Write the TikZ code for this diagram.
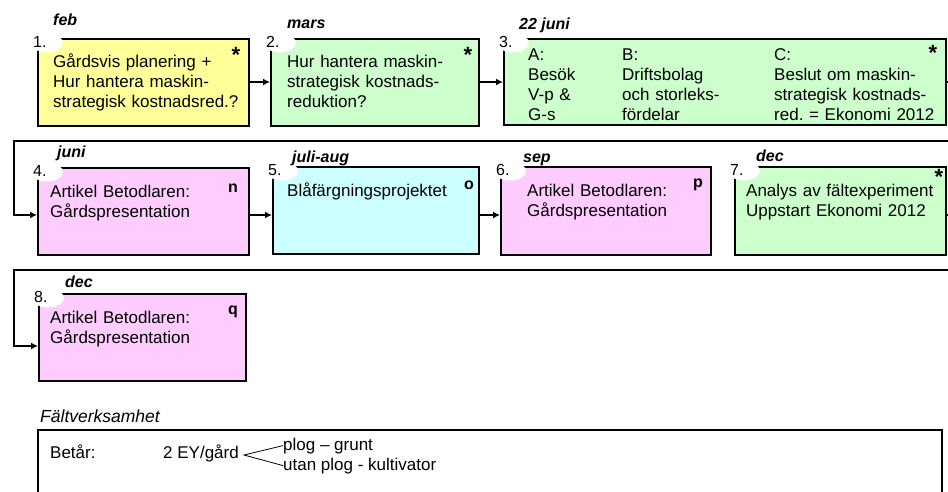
\documentclass[tikz,border=0pt]{standalone}
\usepackage{fontspec}
\setmainfont{Liberation Sans}
\usetikzlibrary{arrows.meta,calc}
\definecolor{boxyellow}{HTML}{FFFF99}
\definecolor{boxgreen}{HTML}{CCFFCC}
\definecolor{boxpink}{HTML}{FFCCFF}
\definecolor{boxcyan}{HTML}{CCFFFF}
\frenchspacing
% asterisk whose box holds only the glyph, not the space below it
\newcommand{\cornerstar}{\raisebox{0pt}[\height][-0.42em]{*}}

\begin{document}
\begin{tikzpicture}[x=1pt,y=-1pt,
  stepbox/.style={draw=black, line width=1.5pt, inner sep=0pt, anchor=north west},
  boxtext/.style={anchor=base west, inner sep=0pt, text width=#1, align=left,
                  font=\fontsize{17}{20}\selectfont},
  boxtext/.default=230pt,
  numlbl/.style={anchor=base west, inner sep=0pt, font=\fontsize{16}{19}\selectfont},
  datelbl/.style={anchor=base west, inner sep=0pt, font=\bfseries\itshape\fontsize{16}{19}\selectfont},
  starlbl/.style={anchor=north, inner sep=0pt, font=\bfseries\fontsize{22}{24}\selectfont},
  taglbl/.style={anchor=base, inner sep=0pt, font=\bfseries\fontsize{16}{19}\selectfont},
  flow/.style={line width=2pt, -{Latex[length=7pt,width=7pt]}},
  plain/.style={anchor=base west, inner sep=0pt, font=\fontsize{17}{20}\selectfont}]

\useasboundingbox (0,0) rectangle (948,491);

% ---- boxes ----
\node[stepbox, fill=boxyellow, minimum width=211pt, minimum height=87pt] (b1) at (37,38) {};
\node[stepbox, fill=boxgreen,  minimum width=208pt, minimum height=87pt] (b2) at (270,38) {};
\node[stepbox, fill=boxgreen,  minimum width=442pt, minimum height=86pt] (b3) at (503,38) {};
\node[stepbox, fill=boxpink,   minimum width=211pt, minimum height=87pt] (b4) at (37,167) {};
\node[stepbox, fill=boxcyan,   minimum width=206pt, minimum height=87pt] (b5) at (272,166) {};
\node[stepbox, fill=boxpink,   minimum width=210pt, minimum height=88pt] (b6) at (500,166) {};
\node[stepbox, fill=boxgreen,  minimum width=211pt, minimum height=88pt] (b7) at (734,166) {};
\node[stepbox, fill=boxpink,   minimum width=207pt, minimum height=87pt] (b8) at (38,293) {};

% ---- white corner tabs with step numbers ----
\foreach \b/\n in {b1/1., b2/2., b3/3., b4/4., b5/5., b6/6., b7/7., b8/8.}{
  \fill[white] ($(\b.north west)+(10,5)$) ellipse [x radius=16pt, y radius=9.5pt];
  \node[numlbl] (\b num) at ($(\b.north west)+(-4,9)$) {\n};
}

% ---- dates ----
\node[datelbl] (d1) at (53,25) {feb};
\node[datelbl] (d2) at (287,28) {mars};
\node[datelbl] (d3) at (519,29) {22 juni};
\node[datelbl] (d4) at (57,157) {juni};
\node[datelbl] (d5) at (292,162) {juli-aug};
\node[datelbl] (d6) at (523,162) {sep};
\node[datelbl] (d7) at (756,161) {dec};
\node[datelbl] (d8) at (65,287) {dec};

% ---- box contents ----
\node[boxtext] (t1) at (53,67) {Gårdsvis planering +\\Hur hantera maskin-\\strategisk kostnadsred.?};
\node[boxtext] (t2) at (287,67) {Hur hantera maskin-\\strategisk kostnads-\\reduktion?};
\node[boxtext=90pt]  (t3a) at (528,60) {A:\\Besök\\V-p \&\\G-s};
\node[boxtext=140pt] (t3b) at (622,60) {B:\\Driftsbolag\\och storleks-\\fördelar};
\node[boxtext=200pt] (t3c) at (774,60) {C:\\Beslut om maskin-\\strategisk kostnads-\\red. = Ekonomi 2012};
\node[boxtext] (t4) at (50,197) {Artikel Betodlaren:\\Gårdspresentation};
\node[boxtext] (t5) at (287,196) {Blåfärgningsprojektet};
\node[boxtext] (t6) at (527,196) {Artikel Betodlaren:\\Gårdspresentation};
\node[boxtext] (t7) at (746,196) {Analys av fältexperiment\\Uppstart Ekonomi 2012};
\node[boxtext] (t8) at (50,323) {Artikel Betodlaren:\\Gårdspresentation};

% ---- corner marks ----
\node[starlbl] (s1) at (236,47) {\cornerstar};
\node[starlbl] (s2) at (468,47) {\cornerstar};
\node[starlbl] (s3) at (933,45) {\cornerstar};
\node[starlbl] (s7) at (939,169) {\cornerstar};
\node[taglbl] (g4) at (233,192) {n};
\node[taglbl] (g5) at (469,189) {o};
\node[taglbl] (g6) at (698,187) {p};
\node[taglbl] (g8) at (233,314) {q};

% ---- connectors ----
\coordinate (r1) at (0,82);
\coordinate (r2) at (0,215);
\coordinate (r3) at (0,346);
\coordinate (wrapA) at (953,141);
\coordinate (wrapB) at (14,141);
\coordinate (wrapC) at (953,270);
\coordinate (wrapD) at (14,270);

\draw[flow] (b1.east |- r1) -- (b2.west |- r1);
\draw[flow] (b2.east |- r1) -- (b3.west |- r1);
\draw[flow] (b3.east |- r1) -| (wrapA) -- (wrapB) |- (b4.west |- r2);
\draw[flow] (b4.east |- r2) -- (b5.west |- r2);
\draw[flow] (b5.east |- r2) -- (b6.west |- r2);
\draw[flow] (b7.east |- r2) -| (wrapC) -- (wrapD) |- (b8.west |- r3);

% ---- field work panel ----
\node[anchor=base west, inner sep=0pt, font=\itshape\fontsize{17.5}{20}\selectfont] (fhead) at (40,422) {Fältverksamhet};
\node[stepbox, fill=white, minimum width=904pt, minimum height=110pt] (field) at (37,429) {};
\node[plain] (betar) at (50,458) {Betår:};
\node[plain] (ey) at (163,458) {2 EY/gård};
\node[plain] (plog) at (283,450) {plog – grunt};
\node[plain] (utan) at (283,470) {utan plog - kultivator};
\coordinate (fork) at (244,455);
\draw[line width=0.8pt] (plog.west) -- (fork) -- (utan.west);

\end{tikzpicture}
\end{document}
